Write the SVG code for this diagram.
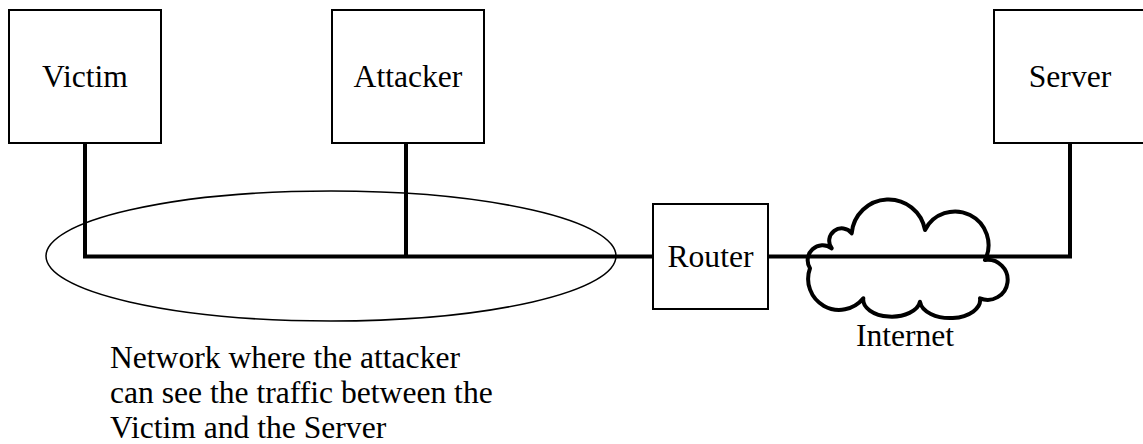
<svg xmlns="http://www.w3.org/2000/svg" width="1143" height="444" viewBox="0 0 1143 444">
<style>
  .box { fill: #fff; stroke: #000; stroke-width: 2; }
  .lbl { font-family: "Liberation Serif", "Times New Roman", serif; font-size: 31.6px; fill: #000; }
  .mid { text-anchor: middle; }
  .wire { fill: none; stroke: #000; stroke-width: 4; stroke-linejoin: miter; stroke-linecap: butt; }
  .cloud { fill: none; stroke: #000; stroke-width: 4; stroke-linejoin: round; }
  .zone { fill: none; stroke: #000; stroke-width: 1.5; }
</style>
<rect width="1143" height="444" fill="#fff"/>

<g id="network-zone">
  <ellipse class="zone" cx="331" cy="256" rx="285" ry="65"/>
  <text class="lbl" x="110" y="368">Network where the attacker</text>
  <text class="lbl" x="110" y="403">can see the traffic between the</text>
  <text class="lbl" x="110" y="438">Victim and the Server</text>
</g>

<g id="connectors">
  <path class="wire" d="M85,143 V256.5 H653"/>
  <path class="wire" d="M406,143 V256.5"/>
  <path class="wire" d="M768,256.5 H1070 V143"/>
</g>

<g id="victim">
  <rect class="box" x="9" y="10" width="152" height="133"/>
  <text class="lbl mid" x="85" y="87">Victim</text>
</g>

<g id="attacker">
  <rect class="box" x="332" y="10" width="152" height="133"/>
  <text class="lbl mid" x="408" y="87">Attacker</text>
</g>

<g id="server">
  <rect class="box" x="994" y="10" width="152" height="133"/>
  <text class="lbl mid" x="1070" y="87">Server</text>
</g>

<g id="router">
  <rect class="box" x="653" y="204" width="115" height="105"/>
  <text class="lbl mid" x="710.5" y="267">Router</text>
</g>

<g id="internet">
  <path class="cloud" d="M810,268.3 A15,15 0 0,1 831.7,248.3 A12.5,12.5 0 0,1 851.7,233.3 A37,37 0 0,1 925,230 A33.5,33.5 0 0,1 985,260 A20,20 0 1,1 980,298.3 A30,18 0 0,1 920,301.7 A28.5,17 0 0,1 863.3,298.3 A31,31 0 0,1 810,268.3 Z"/>
  <text class="lbl mid" x="905" y="346">Internet</text>
</g>
</svg>
